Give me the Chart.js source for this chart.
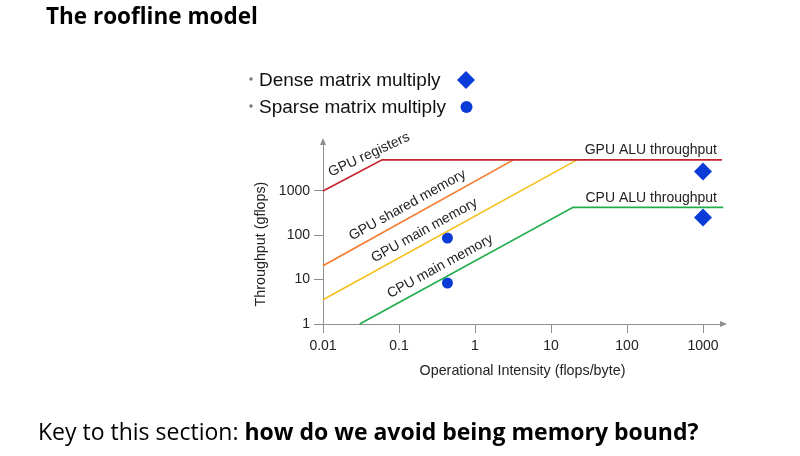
<!DOCTYPE html>
<html>
<head>
<meta charset="utf-8">
<title>The roofline model</title>
<script src="https://cdn.jsdelivr.net/npm/chart.js@4/dist/chart.umd.min.js"></script>
<style>
  html, body { margin: 0; padding: 0; background: #fff; }
  #wrap { position: relative; width: 800px; height: 456px; overflow: hidden; }
  #chart { position: absolute; left: 0; top: 0; }
  #title { position: absolute; left: 46px; top: 5px; font: bold 22.5px "Open Sans", sans-serif; line-height: 1; color: #000; }
  #key { position: absolute; left: 38px; top: 420px; font: 23px "Open Sans", sans-serif; line-height: 1; color: #000; white-space: nowrap; }
  #key b { font-weight: bold; }
</style>
</head>
<body>
<div id="wrap">
  <canvas id="chart" width="800" height="456"></canvas>
  <div id="title">The roofline model</div>
  <div id="key">Key to this section: <b>how do we avoid being memory bound?</b></div>
</div>
<script>
// axis ticks
const xTicks = [0.01, 0.1, 1, 10, 100, 1000];
const xTickLabels = ['0.01', '0.1', '1', '10', '100', '1000'];
const yTicks = [1, 10, 100, 1000];
const yTickLabels = ['1', '10', '100', '1000'];

// rooflines (flops/byte -> gflops)
const gpuRegX = [0.01, 0.06, 1778];
const gpuRegY = [1000, 5000, 5000];
const gpuSharedX = [0.01, 3.2];
const gpuSharedY = [20.5, 5000];
const gpuMainX = [0.01, 22];
const gpuMainY = [3.5, 5000];
const cpuMainX = [0.0304, 19.5, 1850];
const cpuMainY = [1, 425, 425];

// measured kernels
const denseX = [1000, 1000];
const denseY = [2750, 252];
const sparseX = [0.434, 0.434];
const sparseY = [86.5, 8.4];

const lineNames = ['GPU registers', 'GPU shared memory', 'GPU main memory', 'CPU main memory'];
const roofNames = ['GPU ALU throughput', 'CPU ALU throughput'];
const seriesNames = ['Dense matrix multiply', 'Sparse matrix multiply'];

const FONT = '"Liberation Sans", Arial, sans-serif';
const BLUE = '#0a3bd6';
const AXIS = '#8e8e8e';

const pts = (xs, ys) => xs.map((x, i) => ({ x: x, y: ys[i] }));

function lineSet(label, xs, ys, color) {
  return {
    type: 'line', label: label, data: pts(xs, ys),
    borderColor: color, borderWidth: 1.7, pointRadius: 0,
    tension: 0, fill: false, clip: false
  };
}

// text placed along the lines, start given as an x value on the line
const slopeLabels = [
  { ds: 0, from: 0.0142, lift: 9 },
  { ds: 1, from: 0.027, lift: 8 },
  { ds: 2, from: 0.053, lift: 8 },
  { ds: 3, from: 0.086, lift: 8 }
];
const roofLabels = [
  { ds: 0, text: roofNames[0], y: gpuRegY[2] },
  { ds: 3, text: roofNames[1], y: cpuMainY[2] }
];

function pointOnLine(chart, dsIndex, xValue) {
  const meta = chart.getDatasetMeta(dsIndex);
  const px = chart.scales.x.getPixelForValue(xValue);
  const els = meta.data;
  for (let i = 0; i < els.length - 1; i++) {
    const a = els[i], b = els[i + 1];
    if (px >= a.x && px <= b.x) {
      const t = (px - a.x) / (b.x - a.x);
      return { x: px, y: a.y + t * (b.y - a.y), angle: Math.atan2(b.y - a.y, b.x - a.x) };
    }
  }
  return null;
}

const decorations = {
  id: 'decorations',
  afterDraw(chart) {
    const ctx = chart.ctx;
    const area = chart.chartArea;
    ctx.save();

    // axis arrows
    ctx.fillStyle = AXIS;
    ctx.beginPath();
    ctx.moveTo(area.right + 5, area.bottom);
    ctx.lineTo(area.right - 2, area.bottom - 3);
    ctx.lineTo(area.right - 2, area.bottom + 3);
    ctx.closePath();
    ctx.fill();
    ctx.beginPath();
    ctx.moveTo(area.left, area.top - 5);
    ctx.lineTo(area.left - 3, area.top + 2);
    ctx.lineTo(area.left + 3, area.top + 2);
    ctx.closePath();
    ctx.fill();

    // y axis title
    ctx.fillStyle = '#222';
    ctx.font = '14.3px ' + FONT;
    ctx.textAlign = 'center';
    ctx.textBaseline = 'middle';
    ctx.save();
    ctx.translate(261, 244);
    ctx.rotate(-Math.PI / 2);
    ctx.fillText('Throughput (gflops)', 0, 0);
    ctx.restore();

    // labels along the sloped lines
    ctx.font = '14px ' + FONT;
    ctx.textAlign = 'left';
    ctx.textBaseline = 'alphabetic';
    slopeLabels.forEach(l => {
      const p = pointOnLine(chart, l.ds, l.from);
      if (!p) return;
      ctx.save();
      ctx.translate(p.x, p.y);
      ctx.rotate(l.ds === 0 ? p.angle + 0.05 : p.angle);
      ctx.fillText(lineNames[l.ds], 0, -l.lift);
      ctx.restore();
    });

    // roof labels
    ctx.textAlign = 'right';
    roofLabels.forEach(l => {
      const y = chart.scales.y.getPixelForValue(l.y);
      ctx.fillText(l.text, area.right - 5, y - 5.5);
    });

    // legend: bullet, label, then marker
    ctx.font = '19px ' + FONT;
    ctx.textAlign = 'left';
    const rows = [
      { ds: 4, base: 86, mid: 80 },
      { ds: 5, base: 113, mid: 107 }
    ];
    rows.forEach(r => {
      const d = chart.data.datasets[r.ds];
      ctx.fillStyle = '#777';
      ctx.beginPath();
      ctx.arc(251, r.base - 7, 1.7, 0, Math.PI * 2);
      ctx.fill();
      ctx.fillStyle = '#111';
      ctx.fillText(d.label, 259, r.base);
      ctx.fillStyle = d.backgroundColor;
      ctx.beginPath();
      if (d.pointStyle === 'rectRot') {
        ctx.moveTo(466, r.mid - 9);
        ctx.lineTo(475, r.mid);
        ctx.lineTo(466, r.mid + 9);
        ctx.lineTo(457, r.mid);
        ctx.closePath();
      } else {
        ctx.arc(466.5, r.mid, 6, 0, Math.PI * 2);
      }
      ctx.fill();
    });

    ctx.restore();
  }
};

new Chart(document.getElementById('chart'), {
  type: 'scatter',
  data: {
    datasets: [
      lineSet(lineNames[0], gpuRegX, gpuRegY, '#c8232c'),
      lineSet(lineNames[1], gpuSharedX, gpuSharedY, '#f47a2c'),
      lineSet(lineNames[2], gpuMainX, gpuMainY, '#f6c11f'),
      lineSet(lineNames[3], cpuMainX, cpuMainY, '#22ad4c'),
      {
        label: seriesNames[0], data: pts(denseX, denseY),
        pointStyle: 'rectRot', pointRadius: 9, borderWidth: 0,
        backgroundColor: BLUE, borderColor: BLUE, showLine: false
      },
      {
        label: seriesNames[1], data: pts(sparseX, sparseY),
        pointStyle: 'circle', pointRadius: 5.5, borderWidth: 0,
        backgroundColor: BLUE, borderColor: BLUE, showLine: false
      }
    ]
  },
  options: {
    responsive: false,
    devicePixelRatio: 1,
    animation: false,
    layout: { padding: { left: 250, right: 78, top: 143, bottom: 76 } },
    plugins: { legend: { display: false }, tooltip: { enabled: false } },
    scales: {
      x: {
        type: 'logarithmic', min: 0.01, max: 1778,
        afterBuildTicks: s => { s.ticks = xTicks.map(v => ({ value: v })); },
        afterFit: s => { s.height = 56; },
        ticks: {
          autoSkip: false, maxRotation: 0, padding: 5, color: '#222',
          font: { family: FONT, size: 14 },
          callback: (v, i) => xTickLabels[i]
        },
        grid: { drawOnChartArea: false, drawTicks: true, tickLength: 9, color: AXIS },
        border: { display: true, color: AXIS, width: 1 },
        title: {
          display: true, text: 'Operational Intensity (flops/byte)', color: '#222',
          font: { family: FONT, size: 14.3 }, padding: { top: 0, bottom: 0 }
        }
      },
      y: {
        type: 'logarithmic', min: 1, max: 12000,
        afterBuildTicks: s => { s.ticks = yTicks.map(v => ({ value: v })); },
        afterFit: s => { s.width = 73; },
        ticks: {
          autoSkip: false, padding: 4, color: '#222',
          font: { family: FONT, size: 14 },
          callback: (v, i) => yTickLabels[i]
        },
        grid: { drawOnChartArea: false, drawTicks: true, tickLength: 9, color: AXIS },
        border: { display: true, color: AXIS, width: 1 }
      }
    }
  },
  plugins: [decorations]
});
</script>
</body>
</html>
